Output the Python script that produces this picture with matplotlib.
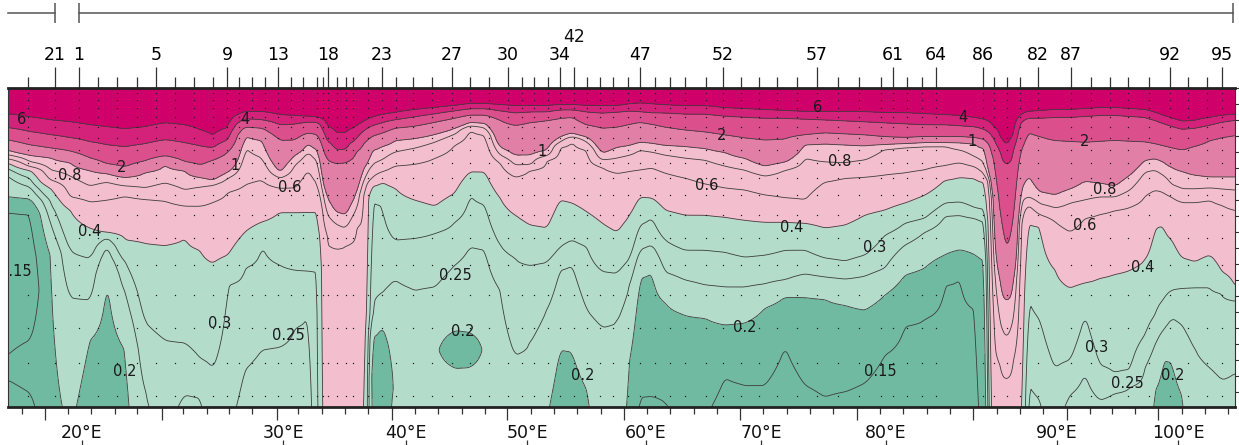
import numpy as np
import matplotlib
matplotlib.use("Agg")
import matplotlib.pyplot as plt
import matplotlib.transforms as mtransforms

nan = np.nan

# section positions of the profiles (along-track distance units)
col_x = [8, 30, 50, 70, 90, 107, 125, 145, 165, 185, 200, 213, 228, 245, 262, 280, 295, 308, 318,
         326, 336, 346, 356, 364,
         372, 382, 395, 415, 435, 455, 470, 485, 500, 515, 530, 547, 560, 572, 587, 602, 617, 630, 640, 652,
         665, 685, 705, 725, 745, 765, 785, 805, 825, 845, 865, 885, 905, 925, 945, 960, 975, 985,
         993, 1000, 1007, 1014, 1021,
         1028, 1040, 1055, 1070, 1085, 1100, 1115, 1130, 1145, 1155, 1163, 1172, 1182, 1195, 1210, 1222, 1235]

# depth of each isoline in the upper layer (nan = isoline does not reach the column)
iso6 = [26, 29, 32, 34, 37, 39, 41, 39, 35, 37, 42, 48, 40, 24, 24, 27, 28, 29, 30,
        37, 45, 45, 39, 34,
        30, 27, 25, 22, 20, 18, 16, 16, 17, 18, 18, 18, 17, 17, 18, 18, 18, 16, 15, 16,
        17, 18, 18, 20, 21, 22, 23, 24, 24, 24, 24, 25, 25, 26, 27, 28, 30, 32,
        38, 50, 62, 47, 27,
        24, 23, 22, 22, 21, 20, 20, 21, 22, 25, 28, 31, 34, 33, 30, 28, 27]
iso4 = [40, 44, 47, 50, 54, 57, 59, 56, 52, 55, 58, 60, 52, 31, 32, 37, 36, 34, 34,
        52, 62, 62, 52, 43,
        38, 35, 32, 29, 26, 23, 21, 21, 23, 25, 24, 24, 22, 22, 24, 25, 24, 23, 24, 25,
        25, 26, 26, 28, 29, 30, 30, 31, 32, 33, 34, 35, 36, 37, 37, 38, 39, 42,
        50, 64, 77, 62, 34,
        30, 30, 29, 29, 28, 27, 27, 28, 29, 32, 35, 38, 41, 40, 37, 34, 32]
iso2 = [52, 57, 60, 63, 70, 76, 79, 73, 68, 74, 77, 72, 64, 39, 40, 52, 52, 45, 47,
        70, 75, 74, 64, 55,
        48, 45, 40, 38, 34, 30, 27, 27, 32, 37, 34, 32, 30, 29, 37, 40, 39, 36, 34, 36,
        39, 42, 44, 47, 50, 52, 51, 47, 45, 46, 47, 49, 50, 49, 49, 49, 50, 52,
        70, 127, 167, 132, 62,
        44, 48, 52, 53, 54, 53, 52, 53, 54, 56, 58, 60, 62, 58, 52, 49, 47]
iso1 = [62, 67, 69, 74, 82, 85, 89, 84, 76, 82, 89, 92, 84, 48, 52, 84, 67, 55, 62,
        107, 124, 127, 107, 80,
        62, 58, 52, 50, 46, 40, 34, 35, 59, 67, 67, 62, 49, 45, 49, 65, 59, 57, 54, 55,
        57, 58, 60, 64, 70, 78, 74, 56, 55, 56, 57, 56, 55, 54, 54, 54, 55, 60,
        110, 192, 214, 192, 100,
        87, 104, 107, 101, 93, 95, 98, 87, 72, 70, 73, 79, 83, 87, 89, 89, 89]
iso08 = [67, 74, 82, 88, 98, 94, 98, 100, 95, 102, 99, 97, 90, 60, 70, 90, 77, 64, 74,
         124, 136, 140, 122, 92,
         77, 72, 64, 60, 54, 46, 38, 40, 67, 77, 77, 68, 54, 49, 54, 72, 70, 67, 62, 64,
         67, 70, 72, 78, 82, 88, 82, 70, 74, 75, 72, 61, 59, 58, 58, 62, 69, 77,
         167, 237, 252, 232, 117,
         109, 116, 120, 115, 112, 109, 109, 102, 84, 82, 87, 97, 101, 101, 100, 101, 102]
iso06 = [71, 79, 92, 109, 114, 112, 108, 111, 113, 118, 118, 114, 104, 97, 92, 100, 100, 82, 97,
         147, 160, 157, 140, 107,
         90, 84, 78, 76, 70, 57, 42, 47, 75, 89, 82, 72, 59, 52, 62, 79, 85, 83, 82, 80,
         85, 90, 96, 100, 102, 107, 110, 112, 94, 90, 89, 87, 85, 82, 78, 75, 79, 87,
         232, 277, 292, 272, 137,
         117, 127, 134, 144, 130, 126, 122, 119, 108, 102, 104, 109, 114, 114, 112, 117, 122]
iso04 = [75, 82, 100, 122, 140, 145, 152, 155, 157, 150, 162, 175, 167, 144, 134, 124, 124, 124, 124,
         nan, nan, nan, nan, nan,
         98, 94, 100, 112, 118, 105, 84, 84, 110, 127, 137, 140, 112, 115, 124, 135, 144, 127, 109, 110,
         122, 127, 127, 129, 132, 134, 134, 135, 140, 137, 127, 122, 115, 107, 92, 89, 90, 94,
         nan, nan, nan, nan, nan,
         134, 138, 182, 200, 195, 190, 186, 182, 172, 140, 137, 152, 170, 174, 167, 184, 199]

# deeper (depth, value) points below the 0.4 isoline, one list per profile
deep = [
    [(80, .3), (88, .25), (109, .2), (124, .15), (197, .12), (267, .15), (280, .17), (292, .15), (319, .13)],
    [(90, .3), (99, .25), (111, .2), (126, .15), (202, .12), (252, .15), (280, .17), (305, .15), (319, .14)],
    [(112, .3), (134, .25), (167, .2), (319, .185)],
    [(162, .3), (209, .25), (319, .21)],
    [(170, .3), (212, .25), (252, .2), (319, .18)],
    [(150, .3), (158, .25), (187, .2), (319, .17)],
    [(174, .3), (204, .25), (262, .2), (319, .19)],
    [(234, .3), (304, .25), (319, .245)],
    [(252, .3), (319, .27)],
    [(255, .3), (307, .25), (319, .24)],
    [(270, .3), (310, .25), (319, .245)],
    [(280, .3), (319, .28)],
    [(197, .3), (319, .26)],
    [(180, .3), (282, .25), (319, .24)],
    [(157, .3), (262, .25), (319, .23)],
    [(177, .3), (259, .25), (319, .23)],
    [(182, .3), (240, .25), (319, .235)],
    [(183, .3), (227, .25), (319, .23)],
    [(184, .3), (319, .29)],
    [(319, .5)], [(319, .55)], [(319, .52)], [(319, .47)], [(319, .42)],
    [(112, .3), (225, .25), (250, .2), (290, .18), (319, .185)],
    [(117, .3), (205, .25), (238, .2), (287, .17), (319, .175)],
    [(152, .3), (192, .25), (255, .215), (300, .205), (319, .21)],
    [(150, .3), (202, .25), (319, .23)],
    [(145, .3), (199, .25), (245, .21), (262, .205), (278, .21), (319, .23)],
    [(134, .3), (177, .25), (243, .2), (262, .18), (280, .2), (319, .22)],
    [(107, .3), (159, .25), (245, .2), (262, .18), (279, .2), (319, .22)],
    [(117, .3), (162, .25), (245, .21), (262, .205), (278, .21), (319, .22)],
    [(157, .3), (202, .25), (319, .22)],
    [(170, .3), (267, .25), (319, .235)],
    [(177, .3), (255, .25), (319, .24)],
    [(174, .3), (222, .25), (319, .205)],
    [(159, .3), (182, .25), (262, .2), (319, .18)],
    [(152, .3), (177, .25), (264, .2), (319, .18)],
    [(159, .3), (222, .25), (302, .2), (319, .195)],
    [(183, .3), (239, .25), (319, .23)],
    [(185, .3), (234, .25), (319, .23)],
    [(170, .3), (197, .25), (272, .2), (319, .19)],
    [(137, .3), (162, .25), (190, .2), (310, .15), (319, .145)],
    [(130, .3), (157, .25), (184, .2), (309, .15), (319, .14)],
    [(152, .3), (184, .25), (215, .2), (315, .15), (319, .147)],
    [(162, .3), (192, .25), (227, .2), (319, .165)],
    [(162, .3), (197, .25), (230, .2), (319, .155)],
    [(164, .3), (199, .25), (237, .2), (290, .15), (319, .14)],
    [(169, .3), (199, .25), (235, .2), (297, .15), (319, .145)],
    [(167, .3), (196, .25), (220, .2), (297, .15), (319, .145)],
    [(162, .3), (192, .25), (209, .2), (259, .15), (319, .13)],
    [(162, .3), (186, .25), (209, .2), (297, .15), (319, .14)],
    [(170, .3), (189, .25), (211, .2), (309, .15), (319, .145)],
    [(173, .3), (191, .25), (217, .2), (304, .15), (319, .14)],
    [(167, .3), (188, .25), (222, .2), (295, .15), (319, .14)],
    [(147, .3), (180, .25), (207, .2), (267, .15), (319, .13)],
    [(135, .3), (157, .25), (187, .2), (238, .15), (319, .13)],
    [(130, .3), (144, .25), (180, .2), (231, .15), (319, .13)],
    [(115, .3), (128, .25), (167, .2), (197, .15), (319, .13)],
    [(114, .3), (127, .25), (162, .2), (188, .15), (319, .13)],
    [(120, .3), (130, .25), (167, .2), (222, .15), (319, .14)],
    [(122, .3), (134, .25), (174, .2), (319, .17)],
    [(319, .5)], [(319, .55)], [(319, .58)], [(319, .53)], [(319, .43)],
    [(212, .3), (297, .25), (319, .24)],
    [(232, .3), (312, .25), (319, .248)],
    [(280, .3), (319, .27)],
    [(272, .3), (307, .25), (319, .24)],
    [(227, .3), (285, .25), (319, .23)],
    [(277, .3), (312, .25), (319, .245)],
    [(285, .3), (305, .25), (319, .24)],
    [(282, .3), (299, .25), (319, .24)],
    [(247, .3), (280, .25), (319, .23)],
    [(227, .3), (257, .25), (302, .2), (319, .195)],
    [(212, .3), (242, .25), (272, .2), (319, .185)],
    [(202, .3), (230, .25), (274, .2), (319, .185)],
    [(200, .3), (237, .25), (307, .2), (319, .197)],
    [(199, .3), (262, .25), (319, .23)],
    [(199, .3), (280, .25), (319, .23)],
    [(205, .3), (292, .25), (319, .235)],
    [(212, .3), (285, .25), (319, .24)],
]

surface_value = 10.0
upper_levels = [6, 4, 2, 1, 0.8, 0.6, 0.4]
fill_levels = [0.001, 0.2, 0.4, 1, 2, 4, 6, 1000]
fill_colors = ['#70baa1', '#b3dccb', '#f3bece', '#e27fa7', '#da4f8c', '#d42179', '#d0006b']
line_levels = [0.15, 0.2, 0.25, 0.3, 0.4, 0.6, 0.8, 1, 2, 4, 6]

# stations (top axis)
stn_pos = [55, 79, 156, 227, 278, 328, 382, 452, 508, 560, 574, 640, 723, 817, 893, 936, 983, 1038, 1071, 1170, 1222]
stn_lab = ['21', '1', '5', '9', '13', '18', '23', '27', '30', '34', '42', '47', '52', '57', '61', '64',
           '86', '82', '87', '92', '95']
stn_raised = ['42']
stn_minor = [28, 98, 117, 137, 175, 194, 213, 239, 252, 265, 291, 303, 317, 323, 337, 346, 353, 368, 396, 413,
             432, 470, 489, 522, 534, 548, 587, 600, 613, 628, 655, 670, 685, 706, 741, 759, 777, 797, 838, 859,
             881, 907, 922, 994, 1007, 1020, 1091, 1110, 1128, 1149, 1188, 1207]
bottle_d = [5, 12, 20, 29, 39, 50, 62, 75, 90, 107, 127, 150, 177, 207, 240, 275, 308]

# bottom axis
dist_major = [45, 162, 277, 392, 507, 624, 740, 857, 973, 1067, 1158]
dist_minor = [22, 68, 91, 115, 137, 183, 207, 229, 252, 298, 322, 345, 368, 415, 438, 462, 485, 531, 554, 577,
              601, 647, 670, 694, 717, 763, 787, 810, 833, 880, 903, 927, 950, 997, 1020, 1043, 1090, 1112,
              1135, 1182, 1205, 1228]
lon_pos = [82, 283, 406, 527, 646, 761, 886, 1057, 1178]
lon_lab = ['20°E', '30°E', '40°E', '50°E', '60°E', '70°E', '80°E', '90°E', '100°E']

# contour labels (x, depth, text)
clabels = [(22, 32, '6'), (245, 31, '4'), (122, 79, '2'), (235, 77, '1'), (70, 87, '0.8'), (290, 100, '0.6'),
           (90, 144, '0.4'), (15, 184, '0.15'), (220, 235, '0.3'), (288, 248, '0.25'), (125, 284, '0.2'),
           (455, 187, '0.25'), (463, 244, '0.2'), (583, 287, '0.2'), (542, 64, '1'), (722, 47, '2'),
           (707, 97, '0.6'), (792, 140, '0.4'), (818, 20, '6'), (745, 239, '0.2'), (840, 74, '0.8'),
           (875, 159, '0.3'), (880, 284, '0.15'), (963, 29, '4'), (972, 54, '1'), (1085, 54, '2'),
           (1105, 102, '0.8'), (1085, 137, '0.6'), (1143, 179, '0.4'), (1097, 260, '0.3'),
           (1127, 295, '0.25'), (1173, 287, '0.2')]

# ---- build the gridded section from the profiles
zz = np.arange(0, 320, 1.0)
logf = np.empty((zz.size, len(col_x)))
iso = [iso6, iso4, iso2, iso1, iso08, iso06, iso04]
for i in range(len(col_x)):
    d = [0.0]
    v = [surface_value]
    for lev, arr in zip(upper_levels, iso):
        if not np.isnan(arr[i]):
            d.append(arr[i])
            v.append(lev)
    for dd, vv in deep[i]:
        d.append(dd)
        v.append(vv)
    logf[:, i] = np.interp(zz, d, np.log(v))

xx = np.arange(8, 1236, 1.0)
grid = np.array([np.interp(xx, col_x, row) for row in logf])


def smooth(a, n, axis):
    k = np.ones(n) / n
    pad = [(0, 0), (0, 0)]
    pad[axis] = (n // 2, n // 2)
    a = np.pad(a, pad, mode='edge')
    return np.apply_along_axis(lambda r: np.convolve(r, k, mode='valid'), axis, a)


grid = smooth(smooth(grid, 7, 1), 5, 0)
field = np.exp(grid)

plt.rcParams['font.family'] = ['DejaVu Sans']
fig = plt.figure(figsize=(12.39, 4.45), dpi=100)
ax = fig.add_axes([8 / 1239, 38 / 445, 1227 / 1239, 319 / 445])

ax.contourf(xx, zz, field, levels=fill_levels, colors=fill_colors)
ax.contour(xx, zz, field, levels=line_levels, colors='#3d3d3d', linewidths=0.6)

sx, sy = np.meshgrid(stn_pos + stn_minor, bottle_d)
ax.scatter(sx.ravel(), sy.ravel(), s=1.0, c='#1e1e1e', linewidths=0, zorder=3)

for x, y, t in clabels:
    ax.text(x, y, t, fontsize=10.5, ha='center', va='center', color='#1a1a1a', clip_on=True, zorder=4)

ax.set_xlim(8, 1235)
ax.set_ylim(319, 0)

# bottom ticks
ax.set_xticks(dist_major)
ax.set_xticks(dist_minor, minor=True)
ax.tick_params(axis='x', which='major', length=9.5, width=0.9, labelbottom=False, color='#333')
ax.tick_params(axis='x', which='minor', length=5, width=0.9, color='#333')

# right side depth ticks
ax.yaxis.tick_right()
ax.set_yticks(np.arange(0, 320, 16))
ax.tick_params(axis='y', which='major', length=4, width=0.8, labelright=False, color='#333')

for side in ['top', 'bottom']:
    ax.spines[side].set_linewidth(2)
    ax.spines[side].set_color('#222')
for side in ['left', 'right']:
    ax.spines[side].set_linewidth(0.8)
    ax.spines[side].set_color('#333')

# station axis on top
top = ax.secondary_xaxis('top')
top.set_xticks(stn_pos, labels=['' if s in stn_raised else s for s in stn_lab])
top.set_xticks(stn_minor, minor=True)
top.tick_params(which='major', length=15, width=0.9, pad=2, labelsize=12.5, color='#333')
top.tick_params(which='minor', length=8, width=0.9, color='#333')
top.spines['top'].set_visible(False)

trans = mtransforms.blended_transform_factory(ax.transData, ax.transAxes)
for p, s in zip(stn_pos, stn_lab):
    if s in stn_raised:
        ax.text(p, 1.16, s, transform=trans, ha='center', va='center', fontsize=12.5, color='#111')

for p, lab in zip(lon_pos, lon_lab):
    ax.text(p, -0.082, lab, transform=trans, ha='center', va='center', fontsize=12.5, color='#111')
ax.vlines(lon_pos, -0.125, -0.105, transform=trans, colors='#333', linewidth=0.9, clip_on=False)

# cruise leg bracket above the station numbers
leg_start = [8, 79]
leg_end = [55, 1233]
for a, b in zip(leg_start, leg_end):
    ax.plot([a, b], [1.236, 1.236], transform=trans, color='#555', lw=1.1, clip_on=False)
ax.vlines([55, 79, 1233], 1.205, 1.268, transform=trans, colors='#555', linewidth=1.1, clip_on=False)

fig.savefig('out.png', dpi=100)
